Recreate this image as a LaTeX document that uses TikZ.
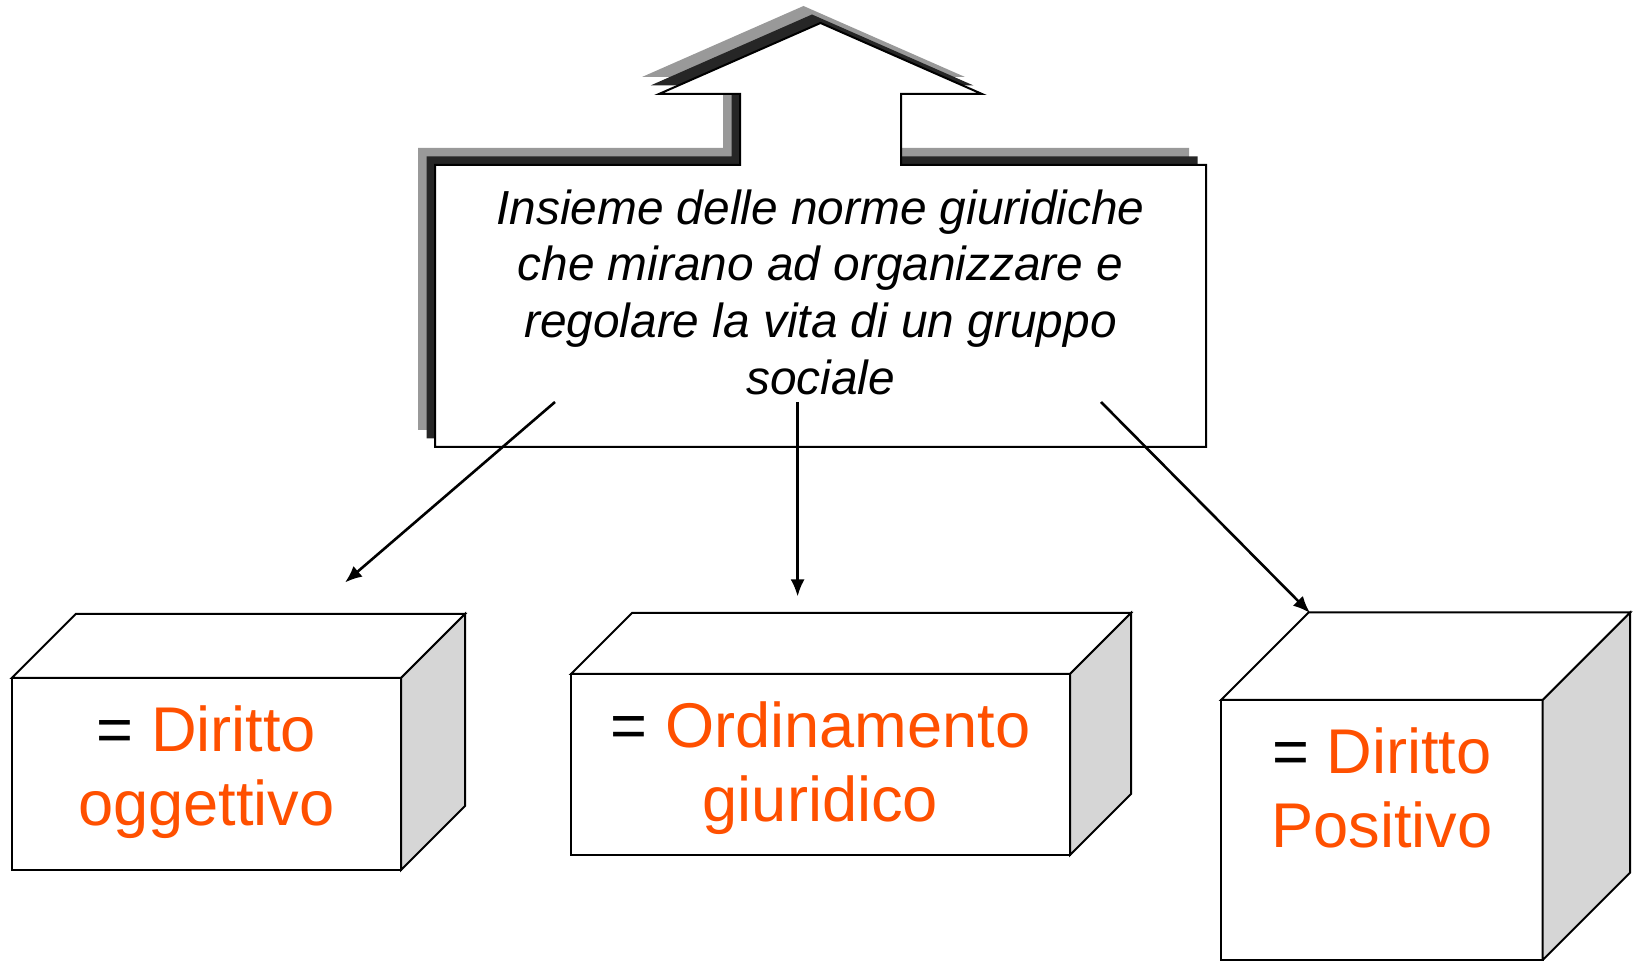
\documentclass[tikz,border=0pt]{standalone}
\usepackage{fontspec}
\setmainfont{Liberation Sans}
\usepackage{xcolor}
\usepackage{tikz}
\usetikzlibrary{arrows.meta,positioning}

\definecolor{arancio}{RGB}{255,80,0}
\definecolor{ombra}{RGB}{38,38,38}
\definecolor{ombrachiara}{RGB}{153,153,153}
\definecolor{fianco}{RGB}{214,214,214}

% outline of the box with the arrow on top
\newcommand{\contorno}{(435,165) -- (740,165) -- (740,94) -- (659,94) -- (820.5,23) -- (982,94) -- (901,94) -- (901,165) -- (1206,165) -- (1206,447) -- (435,447) -- cycle}

\begin{document}
\begin{tikzpicture}[
    x=0.5pt, y=-0.5pt,
    front/.style={rectangle, draw, fill=white, line width=1pt, anchor=north west, inner sep=0pt, outer sep=0pt},
    topface/.style={draw, fill=white, line width=1pt},
    sideface/.style={draw, fill=fianco, line width=1pt},
    cubetext/.style={align=center, inner sep=0pt, text=arancio, font=\fontsize{31.6}{37}\selectfont},
    boxtext/.style={align=center, inner sep=0pt, font=\itshape\fontsize{23.9}{28.35}\selectfont},
    line/.style={draw, -{Latex[length=8.5pt, width=7pt]}, line width=1.3pt}
]
    \useasboundingbox (0,0) rectangle (1635,961);

    % Box with shadows
    \foreach \o/\c in {17/ombrachiara, 8.5/ombra}
        \fill[\c, shift={(-\o,-\o)}] \contorno;
    \draw[line width=1pt, fill=white] \contorno;
    \node [boxtext, anchor=north] (norme) at (820.5,189) {Insieme delle norme giuridiche\\che mirano ad organizzare e\\regolare la vita di un gruppo\\sociale};

    % Cubes
    \node [front, minimum width=194.65pt, minimum height=96pt] (oggettivo) at (11.7,678) {};
    \node [front, minimum width=249.5pt, minimum height=90.5pt] (ordinamento) at (571,674) {};
    \node [front, minimum width=160.85pt, minimum height=130pt] (positivo) at (1221,700) {};
    \foreach \c/\d in {oggettivo/64, ordinamento/61, positivo/87.5} {
        \draw[topface] (\c.north west) -- ([shift={(\d,-\d)}]\c.north west) -- ([shift={(\d,-\d)}]\c.north east) -- (\c.north east) -- cycle;
        \draw[sideface] (\c.north east) -- ([shift={(\d,-\d)}]\c.north east) -- ([shift={(\d,-\d)}]\c.south east) -- (\c.south east) -- cycle;
    }
    \node [cubetext, below=13.75pt of oggettivo.north] (t1) {\textcolor{black}{=} Diritto\\oggettivo};
    \node [cubetext, below=13.75pt of ordinamento.north] (t2) {\textcolor{black}{=} Ordinamento\\giuridico};
    \node [cubetext, below=13.75pt of positivo.north] (t3) {\textcolor{black}{=} Diritto\\Positivo};

    % Edges
    \coordinate (da1) at (555,402);
    \coordinate (a1) at (345,582.5);
    \coordinate (da2) at (797.6,402);
    \coordinate (a2) at (797.6,596.5);
    \coordinate (da3) at (1101,402);
    \coordinate (a3) at (1310,613);
    \path [line] (da1) -- (a1);
    \path [line] (da2) -- (a2);
    \path [line] (da3) -- (a3);
\end{tikzpicture}
\end{document}
